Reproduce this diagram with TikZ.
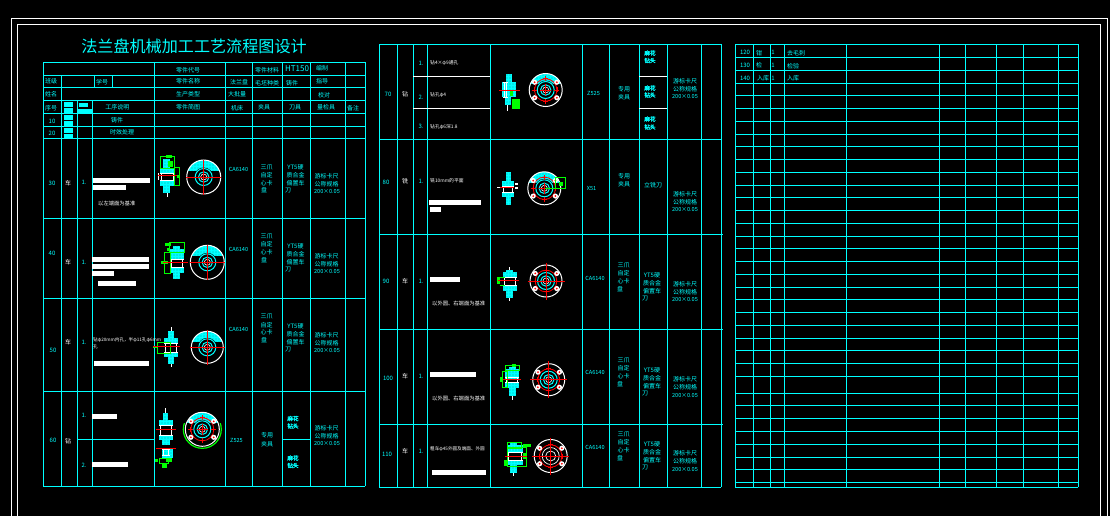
\documentclass[tikz,border=0pt]{standalone}
\usepackage{fontspec}
\setmainfont{Noto Sans CJK SC}
\newfontfamily\cjkbold[FakeBold=3]{Noto Sans CJK SC}
\usetikzlibrary{patterns.meta}
\definecolor{cadcyan}{RGB}{0,255,255}
\definecolor{cadgreen}{RGB}{0,255,0}
\definecolor{cadred}{RGB}{255,0,0}
\definecolor{cadwhite}{RGB}{255,255,255}
\definecolor{cadblack}{RGB}{0,0,0}
\newcounter{lblnum}
\tikzset{
  lbl/.style={text=cadcyan,font=\fontsize{6}{6}\selectfont,inner sep=0pt,align=center},
  wlbl/.style={text=cadwhite,font=\fontsize{6}{6}\selectfont,inner sep=0pt},
  smalllbl/.style={text=cadwhite,font=\fontsize{5.3}{5.3}\selectfont,inner sep=0pt,anchor=west},
  blob/.style={text=cadcyan,font=\cjkbold\fontsize{5.6}{5.6}\selectfont,inner sep=0pt},
  grid/.style={draw=cadcyan,line width=1pt},
  frameline/.style={draw=cadwhite,line width=1pt},
  bar/.style={fill=cadwhite,draw=none},
  block/.style={fill=cadcyan,draw=none},
  body/.style={fill=cadcyan,draw=none},
  dots/.style={pattern={Dots[radius=0.45pt,distance=3pt]},pattern color=cadblack,draw=none},
  gline/.style={draw=cadgreen,line width=1pt},
  gfill/.style={fill=cadgreen,draw=none},
  axis/.style={draw=cadred,line width=0.8pt},
  wline/.style={draw=cadwhite,line width=0.8pt}
}
\newcommand{\T}[4][lbl]{\stepcounter{lblnum}\node[#1] (t\thelblnum) at (#2,#3) {#4};}
\newcommand{\cy}[4]{\fill[body] (#1,#2) rectangle (#3,#4);\fill[dots] (#1,#2) rectangle (#3,#4);}
\newcommand{\grn}[4]{\draw[gline] (#1,#2) rectangle (#3,#4);}
\newcommand{\gb}[4]{\fill[gfill] (#1,#2) rectangle (#3,#4);}
% \gap{x1}{x2}{y1}{y2}: bored middle of a section
\newcommand{\gap}[4]{\draw[wline] (#1,#3) -- (#2,#3) (#1,#4) -- (#2,#4);\draw[wline,line width=1.2pt] (#1+1.5,#3) -- (#1+1.5,#4) (#2-1.5,#3) -- (#2-1.5,#4);}
\newcommand{\rl}[3]{\draw[axis] (#1,#3) -- (#2,#3);}
\newcommand{\tk}[3]{\draw[wline] (#1,#2) -- (#1,#3);}
\newcommand{\front}[3]{%
  \begin{scope}\clip (#1,#2) circle (#3);
    \fill[body] (#1-#3,#2-#3) rectangle (#1+#3,#2-0.35*#3);
    \fill[dots] (#1-#3,#2-#3) rectangle (#1+#3,#2-0.35*#3);
  \end{scope}
  \draw[cadwhite,line width=1pt] (#1,#2) circle (#3);
}
\newcommand{\rings}[2]{%
  \fill[cadblack] (#1,#2) circle (9.5);
  \draw[cadcyan,line width=1pt] (#1,#2) circle (8.5);
  \draw[cadcyan,line width=1pt] (#1,#2) circle (5.2);
  \draw[cadwhite,line width=0.6pt] (#1,#2) circle (3);
}
\newcommand{\crossr}[3]{\draw[axis] (#1-#3-1.5,#2) -- (#1+#3+1.5,#2) (#1,#2-#3-1.5) -- (#1,#2+#3+1.5);}
\newcommand{\holes}[3]{%
  \draw[axis] (#1,#2) circle (0.68*#3);
  \foreach \a in {35,145,215,325}{%
    \fill[cadwhite] (#1,#2) ++(\a:0.82*#3) circle (2.6);
    \fill[cadred] (#1,#2) ++(\a:0.82*#3) circle (1);}
  \foreach \a in {90,270,0,180}{%
    \draw[axis] (#1,#2) ++(\a:0.68*#3) +(-2.5,0) -- +(2.5,0) +(0,-2.5) -- +(0,2.5);}
}
\begin{document}
\begin{tikzpicture}[x=1pt,y=-1pt]
\useasboundingbox (0,0) rectangle (1110,516);
\fill[cadblack] (0,0) rectangle (1110,516);
% frames
\draw[frameline] (11.7,520) -- (11.7,18.3) -- (1107,18.3) -- (1107,520);
\draw[frameline] (17.5,520) -- (17.5,24.3) -- (1100.3,24.3) -- (1100.3,520);
% title
\T[lbl,font=\fontsize{16.1}{16.1}\selectfont]{194}{46.5}{法兰盘机械加工工艺流程图设计}

% ---- table 1 ----
\foreach \y in {62.3,75.3,87.7,100.3,113.3,126.3,138.3,218.3,298.3,391.7,486.3}
  {\draw[grid] (43.3,\y) -- (365.3,\y);}
\foreach \x in {43.3,154.3,225.3,252.3,282.3,310.3,345.3,365.3}
  {\draw[grid] (\x,62.3) -- (\x,486.3);}
\draw[grid] (61.3,75.3) -- (61.3,486.3);
\foreach \x in {77.3,92.3} {\draw[grid] (\x,100.3) -- (\x,486.3);}
\foreach \x in {94.7,112.7} {\draw[grid] (\x,75.3) -- (\x,87.7);}
\draw[grid] (77.3,439.7) -- (154.3,439.7);
\draw[grid] (282.3,439.7) -- (310.3,439.7);
\foreach \ya/\yb in {102/107,108/113,115/120,121/126,128/133,134/138}
  {\fill[block] (64,\ya) rectangle (73,\yb);}
\fill[block] (79,103) rectangle (88,107);
\fill[block] (78,109) rectangle (92,113);
% header text
\T{188}{70}{零件代号}\T{188}{81}{零件名称}\T{188}{94.5}{生产类型}\T{188}{107}{零件简图}
\T{117.3}{107.7}{工序说明}\T{117}{120}{铸件}\T{122}{132.7}{时效处理}
\T{51}{108}{序号}\T{52}{121}{10}\T{52}{133}{20}\T{51}{81}{班级}\T{51}{94.5}{姓名}\T{102}{81.7}{学号}
\T{267}{70}{零件材料}\T[lbl,font=\fontsize{8}{8}\selectfont]{297}{68.5}{HT150}\T{322}{68.5}{编制}
\T{239}{81.7}{法兰盘}\T{267}{83}{毛坯种类}\T{292}{83}{铸件}\T{322}{81}{指导}
\T{237}{94}{大批量}\T{324}{95}{校对}\T{237}{108}{机床}\T{264}{107}{夹具}\T{295}{107}{刀具}\T{326}{107}{量检具}\T{353}{108}{备注}
% rows table 1
\T{52}{183}{30}\T[wlbl]{68}{183}{车}\T{84}{182}{1.}
\T{52}{253}{40}\T[wlbl]{68}{262}{车}\T{84}{262}{1.}
\T{53}{350}{50}\T[wlbl]{68}{342}{车}\T{84}{342}{1.}
\T{53}{440}{60}\T[wlbl]{68}{441}{钻}\T{84}{415}{1.}\T{84}{465}{2.}
\fill[bar] (93,178) rectangle (150,183);\fill[bar] (93,185) rectangle (126,190);
\T[smalllbl]{98}{204}{以左端面为基准}
\fill[bar] (92.3,257) rectangle (149,262);\fill[bar] (92.3,264) rectangle (149,269);
\fill[bar] (92.3,271) rectangle (114,276);\fill[bar] (98,281) rectangle (136,286);
\T[smalllbl,font=\fontsize{4.6}{4.6}\selectfont]{93}{340}{钻φ20mm内孔，半φ11孔φ6mm}
\T[smalllbl,font=\fontsize{4.6}{4.6}\selectfont]{93}{347}{孔}
\fill[bar] (94,361) rectangle (149,366);
\fill[bar] (92.3,414) rectangle (117,419);\fill[bar] (92.3,462) rectangle (128,467);
\foreach \y/\m in {169/CA6140,249/CA6140,329/CA6140} {\T[lbl,font=\fontsize{5.6}{5.6}\selectfont]{238.5}{\y}{\m}}
\T[lbl,font=\fontsize{5.6}{5.6}\selectfont]{236.5}{440}{Z525}
\T{266.5}{167.5}{三爪}\T{266.5}{175}{自定}\T{266.5}{183}{心卡}\T{264}{190.5}{盘}
\T{266.5}{236.5}{三爪}\T{266.5}{244.5}{自定}\T{266.5}{252.5}{心卡}\T{264}{260.5}{盘}
\T{266.5}{316}{三爪}\T{266.5}{325}{自定}\T{266.5}{332.5}{心卡}\T{264}{340.5}{盘}
\T{267}{435.5}{专用}\T{267}{444}{夹具}
\T{295.5}{167}{YT5硬}\T{295.5}{175}{质合金}\T{295.5}{183}{偏置车}\T{288}{191}{刀}
\T{295.5}{246}{YT5硬}\T{295.5}{254}{质合金}\T{295.5}{262}{偏置车}\T{288}{270}{刀}
\T{295.5}{326}{YT5硬}\T{295.5}{334}{质合金}\T{295.5}{342}{偏置车}\T{288}{350}{刀}
\T[blob]{293}{418.5}{麻花}\T[blob]{293}{426}{钻头}\T[blob]{293}{458}{麻花}\T[blob]{293}{465.5}{钻头}
\foreach \y in {176,256,335,428}{%
  \T{326.5}{\y}{游标卡尺}\T{326.5}{\y+8.5}{公称规格}\T[lbl,font=\fontsize{5.6}{5.6}\selectfont]{327}{\y+15.5}{200×0.05}}

% ---- table 2 ----
\foreach \y in {44.3,139.3,234.3,329.3,424.3,487.3}
  {\draw[grid] (379.3,\y) -- (721.3,\y);}
\foreach \y in {234.3,329.3,424.3}
  {\draw[grid] (721.3,\y) -- (722.7,\y);}
\foreach \x in {379.3,397.3,413.3,427.3,490.3,582.3,609.3,639.3,667.3,701.3,721.3}
  {\draw[grid] (\x,44.3) -- (\x,487.3);}
\foreach \y in {76.3,108.3}{%
  \draw[frameline] (413.3,\y) -- (490.3,\y);
  \draw[frameline] (639.3,\y) -- (667.3,\y);}
\T{388}{94}{70}\T[wlbl]{405}{94}{钻}\T{421}{63}{1.}\T{421}{97}{2.}\T{421}{126}{3.}
\T{386}{182}{80}\T[wlbl]{405}{181}{铣}\T{421}{181}{1.}
\T{386}{281}{90}\T[wlbl]{405}{281}{车}\T{421}{281}{1.}
\T{388}{378}{100}\T[wlbl]{405}{376}{车}\T{421}{376}{1.}
\T{387}{454}{110}\T[wlbl]{405}{451}{车}\T{421}{451}{1.}
\T[smalllbl,font=\fontsize{4.8}{4.8}\selectfont]{430}{63}{钻4×φ9通孔}
\T[smalllbl,font=\fontsize{4.8}{4.8}\selectfont]{430}{95}{钻孔φ4}
\T[smalllbl,font=\fontsize{4.8}{4.8}\selectfont]{430}{126.5}{钻孔φ6深1.8}
\T[smalllbl,font=\fontsize{4.8}{4.8}\selectfont]{430}{181}{铣10mm的平面}
\fill[bar] (429,200) rectangle (481,205);\fill[bar] (430,207) rectangle (441,212);
\fill[bar] (430,277) rectangle (460,282);
\T[smalllbl]{432}{303}{以外圆、右端面为基准}
\fill[bar] (430,372) rectangle (476,377);
\T[smalllbl]{432}{398}{以外圆、右端面为基准}
\T[smalllbl,font=\fontsize{4.6}{4.6}\selectfont]{430}{449}{粗车φ45外圆及端面、外圆}
\fill[bar] (432,470) rectangle (486,475);
\T[lbl,font=\fontsize{5.6}{5.6}\selectfont]{593.5}{93}{Z525}
\T[lbl,font=\fontsize{5.6}{5.6}\selectfont]{591.5}{188}{X51}
\foreach \y in {278,372,447}{\T[lbl,font=\fontsize{5.6}{5.6}\selectfont]{595}{\y}{CA6140}}
\T{624}{89}{专用}\T{624}{97}{夹具}\T{624}{176}{专用}\T{624}{184}{夹具}
\foreach \y in {265,360,434}{%
  \T{623.5}{\y}{三爪}\T{623.5}{\y+8}{自定}\T{623.5}{\y+16}{心卡}\T{620}{\y+24}{盘}}
\T[blob]{650}{53}{麻花}\T[blob]{650}{60.5}{钻头}\T[blob]{650}{88}{麻花}\T[blob]{650}{95}{钻头}\T[blob]{650}{119}{麻花}\T[blob]{650}{127}{钻头}
\T{653}{185}{立铣刀}
\foreach \y in {275,370,444}{%
  \T{652}{\y}{YT5硬}\T{652}{\y+8}{质合金}\T{652}{\y+16}{偏置车}\T{645}{\y+24}{刀}}
\foreach \y in {81,194,284,379,453}{%
  \T{685}{\y}{游标卡尺}\T{685}{\y+8.5}{公称规格}\T[lbl,font=\fontsize{5.6}{5.6}\selectfont]{685}{\y+16}{200×0.05}}

% ---- table 3 ----
\foreach \y in {44.3,57.3,70.3,83.3,95.3,108.3,121.3,134.3,146.3,159.3,172.3,185.3,197.3,210.3,223.3,236.3,248.3,261.3,274.3,287.3,299.3,312.3,325.3,338.3,350.3,363.3,376.3,393.3,405.3,418.3,431.3,444.3,457.3,469.3,482.3,487.3}
  {\draw[grid] (735.3,\y) -- (1078.3,\y);}
\foreach \x in {735.3,753.3,770.3,784.3,846.3,939.3,965.3,996.3,1023.3,1058.3,1078.3}
  {\draw[grid] (\x,44.3) -- (\x,487.3);}
\T{745}{52}{120}\T{759}{53}{钳}\T{773}{52}{1}\T{796}{53}{去毛刺}
\T{745}{65}{130}\T{759}{65.5}{检}\T{773}{65}{1}\T{793}{66}{检验}
\T{745}{78}{140}\T{763}{78}{入库}\T{773}{78}{1}\T{793}{78}{入库}

% ---- drawings ----
% row 30
\cy{163}{159}{170}{168}\cy{160}{168}{175}{173}\cy{160}{180}{175}{186}\cy{163}{186}{170}{193}
\gap{160}{175}{173}{180}\tk{167}{193}{197}\draw[wline,line width=1.2pt] (158.7,173) -- (158.7,180);
\grn{160.3}{156.7}{174}{168}\grn{174}{167.3}{179}{185.3}
\gb{166}{155}{172}{158}\gb{168}{161}{173}{167}\gb{177}{175}{180}{178}
\rl{158}{177}{175.7}
\front{203.7}{177}{17}\rings{203.7}{177}\crossr{203.7}{177}{16}
% row 40
\cy{173}{246}{180}{249}\cy{170}{249}{184}{259}\cy{170}{267}{184}{273}\cy{173}{273}{180}{279}
\gap{170}{184}{259}{267}
\grn{169}{242}{184}{252}\grn{164}{252}{170}{273}
\gb{161}{261}{168}{264}\gb{165}{242.5}{171}{245.5}\gb{167}{248}{170}{251}
\rl{163}{188}{262}
\front{207.3}{262.3}{17}\rings{207.3}{262.3}\crossr{207.3}{262.3}{16}
% row 50
\tk{171}{327}{331}\cy{168}{331}{174}{338}\cy{164}{338}{178}{343}\cy{164}{352}{178}{357}\cy{168}{357}{174}{364}\tk{171}{364}{367}
\gap{164}{178}{343}{352}
\grn{157}{342}{170}{353}\gb{153}{346}{157}{348}
\rl{153}{180}{346.7}
\front{207.3}{347.3}{16}\rings{207.3}{347.3}\crossr{207.3}{347.3}{16}
% row 60
\tk{165.7}{408}{413}\cy{163}{413}{168}{420}\cy{159}{420}{173}{425}\cy{159}{435}{173}{440}\cy{162}{440}{170}{445}
\gap{159}{173}{425}{435}
\rl{156}{176}{429}\rl{156}{176}{448}
\cy{162}{449}{173}{458}\gap{162}{170}{449}{455}
\grn{159}{458}{168}{463}\gb{155}{459}{158}{462}\gb{166}{458}{172}{462}\gb{162}{463}{167}{468}
\begin{scope}\clip (180,423) rectangle (225,452);
\draw[cadgreen,line width=1.2pt] (202.3,429.3) circle (19);
\end{scope}
\front{202.3}{429.3}{17}
\rings{202.3}{429.3}\holes{202.3}{429.3}{17}\crossr{202.3}{429.3}{4}
% row 70
\cy{505.7}{74}{511.7}{82}\cy{502}{82}{516}{97}\cy{505}{97}{511}{105}
\gap{503}{508}{82}{97}
\gb{512}{99}{520}{109}\tk{507}{105}{111}\gb{510}{90}{513}{96}
\rl{499}{520}{90.3}
\front{545.7}{90}{16.5}\rings{545.7}{90}\holes{545.7}{90}{16.5}\crossr{545.7}{90}{4}
% row 80
\cy{505.7}{172}{511}{181}\cy{502}{181}{514}{186}\cy{502}{192}{514}{197}\cy{505.7}{197}{511}{205}
\gap{502}{514}{186}{192}\draw[wline,line width=1.2pt] (497,187.7) -- (502,187.7) (515,184) -- (518,184) (515,188) -- (518,188);
\rl{500}{514}{187.7}
\front{544.3}{188.3}{16.5}\rings{544.3}{188.3}\holes{544.3}{188.3}{16.5}\crossr{544.3}{188.3}{4}
\grn{555}{177}{565}{188}\gb{559}{182}{563}{186}\draw[gline] (545,188) -- (555,188);
% row 90
\tk{509.3}{267}{272}\cy{506}{270}{513}{272}\cy{503}{272}{517}{277}\cy{503}{285}{517}{291}\cy{506}{291}{513}{298}\tk{509.3}{298}{301}
\gap{503}{517}{277}{285}
\gb{497}{277}{499.5}{284}\draw[gline] (499.5,277) -- (505,277) (499.5,285) -- (505,285);
\rl{498}{519}{280.7}
\draw[cadwhite,line width=1pt] (546,281) circle (16);\rings{546}{281}\holes{546}{281}{16}\crossr{546}{281}{17}
% row 100
\cy{509}{367}{516}{369}\cy{505}{369}{519}{379}\cy{505}{382}{519}{388}\cy{509}{388}{516}{396}\tk{512}{396}{400}
\gap{505}{519}{377}{382}
\grn{505}{365}{519}{370}\grn{502}{371}{507}{387}\gb{500}{377}{503}{382}\gb{512}{364}{516}{367}
\rl{503}{521}{379.7}
\draw[cadwhite,line width=1pt] (548.7,379.7) circle (16);\rings{548.7}{379.7}\holes{548.7}{379.7}{16}\crossr{548.7}{379.7}{17}
% row 110
\cy{510}{443}{517}{445}\cy{507}{445}{523}{452}\cy{507}{460}{523}{465}\cy{510}{465}{517}{473}\tk{513}{473}{476}
\gap{507}{523}{452}{460}
\grn{507}{442}{521}{448}\grn{507}{447}{526}{466}\gb{504}{460}{507}{466}\gb{523}{444}{531}{447}\gb{523}{453}{526}{459}
\rl{505}{527}{456}
\draw[cadwhite,line width=1pt] (550.7,456) circle (16.5);
\draw[cadwhite,line width=0.7pt] (550.7,456) circle (8.5);\draw[cadwhite,line width=0.7pt] (550.7,456) circle (5);
\holes{550.7}{456}{16.5}\crossr{550.7}{456}{17}
\end{tikzpicture}
\end{document}
